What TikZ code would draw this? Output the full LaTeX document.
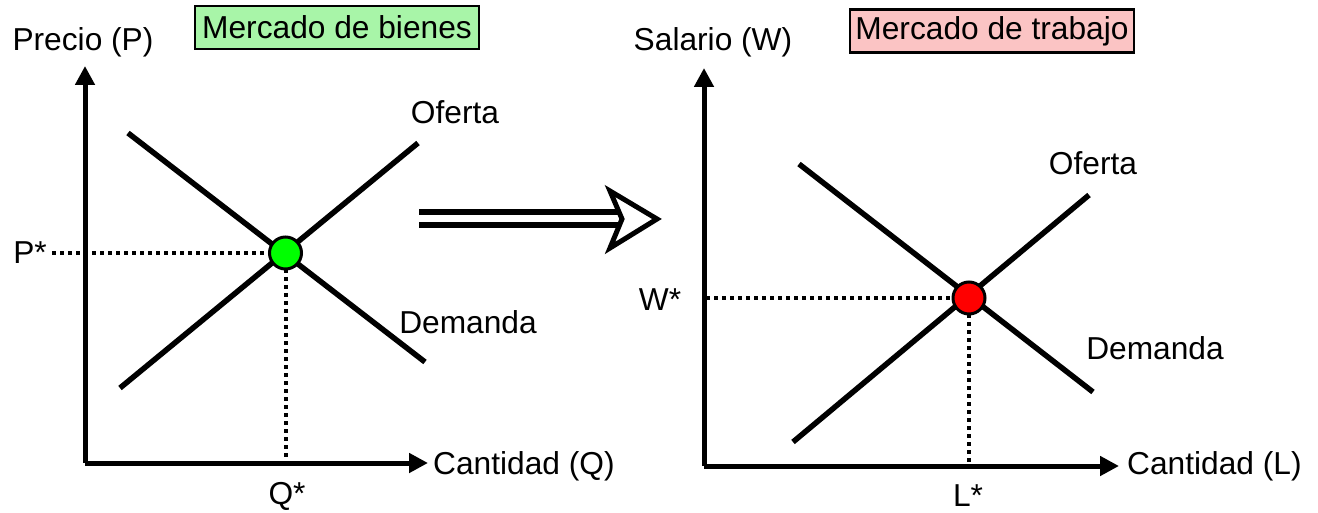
\documentclass[tikz,border=0pt]{standalone}
\usepackage{fontspec}
\setmainfont{Liberation Sans}
\usetikzlibrary{arrows.meta}
\definecolor{boxgreen}{HTML}{A8F5A8}
\definecolor{boxpink}{HTML}{FBC4C4}
\definecolor{dotgreen}{HTML}{00FF00}
\definecolor{dotred}{HTML}{FF0000}
\begin{document}
\begin{tikzpicture}[x=1pt,y=-1pt,
  every node/.style={font=\fontsize{31.7}{37}\selectfont, inner sep=0pt},
  axis/.style={line width=5pt, -{Triangle[length=19pt,width=19pt]}},
  curve/.style={line width=5.5pt},
  guide/.style={line width=4pt, dash pattern=on 4pt off 4pt},
  title/.style={draw, line width=2.5pt, minimum width=284pt, minimum height=43pt},
  eqdot/.style={circle, draw, line width=3pt, minimum size=32pt}]
\useasboundingbox (0,0) rectangle (1318,513);

% ---------- left graph ----------
\coordinate (O1) at (85,463);
\coordinate (Y1) at (85,66);
\coordinate (X1) at (428,463);
\draw[axis] (O1) -- (Y1);
\draw[axis] (O1) -- (X1);
\coordinate (s1a) at (120,388);
\coordinate (s1b) at (418,143);
\coordinate (d1a) at (128,133);
\coordinate (d1b) at (425,362);
\draw[curve] (s1a) -- (s1b);
\draw[curve] (d1a) -- (d1b);
\coordinate (E1) at (285.5,253);
\coordinate (P1) at (52,253);
\coordinate (Q1) at (285.5,463);
\draw[guide] (P1) -- (E1);
\draw[guide] (E1) -- (Q1);
\node[eqdot, fill=dotgreen] (dot1) at (E1) {};

\node (ylab1) at (83,42) {Precio (P)};
\node[title, fill=boxgreen] (t1) at (337,27.5) {Mercado de bienes};
\node (of1) at (455,112) {Oferta};
\node (de1) at (468,322) {Demanda};
\node (ps) at (30,253) {P*};
\node (qs) at (287,496) {Q*};
\node[anchor=west] (xlab1) at (433,466) {Cantidad (Q)};

% ---------- transition arrow ----------
\coordinate (ta1) at (419,212);
\coordinate (tb1) at (620,212);
\coordinate (ta2) at (419,225);
\coordinate (tb2) at (620,225);
\draw[line width=6pt] (ta1) -- (tb1);
\draw[line width=6pt] (ta2) -- (tb2);
\coordinate (h1) at (610,191);
\coordinate (h2) at (657,219);
\coordinate (h3) at (610,248);
\coordinate (h4) at (622,219);
\draw[line width=5pt, fill=white, line join=miter] (h1) -- (h2) -- (h3) -- (h4) -- cycle;

% ---------- right graph ----------
\coordinate (O2) at (704,466);
\coordinate (Y2) at (704,68);
\coordinate (X2) at (1119,466);
\draw[axis] (O2) -- (Y2);
\draw[axis] (O2) -- (X2);
\coordinate (s2a) at (793,442);
\coordinate (s2b) at (1089,195);
\coordinate (d2a) at (799,164);
\coordinate (d2b) at (1093,392);
\draw[curve] (s2a) -- (s2b);
\draw[curve] (d2a) -- (d2b);
\coordinate (E2) at (969,298);
\coordinate (W2) at (706,298);
\coordinate (L2) at (969,466);
\draw[guide] (W2) -- (E2);
\draw[guide] (E2) -- (L2);
\node[eqdot, fill=dotred] (dot2) at (E2) {};

\node (ylab2) at (713,42) {Salario (W)};
\node[title, fill=boxpink] (t2) at (992,31) {Mercado de trabajo};
\node (of2) at (1093,163) {Oferta};
\node (de2) at (1155,348) {Demanda};
\node (ws) at (660,300) {W*};
\node (ls) at (968,496) {L*};
\node[anchor=west] (xlab2) at (1127,466) {Cantidad (L)};
\end{tikzpicture}
\end{document}
